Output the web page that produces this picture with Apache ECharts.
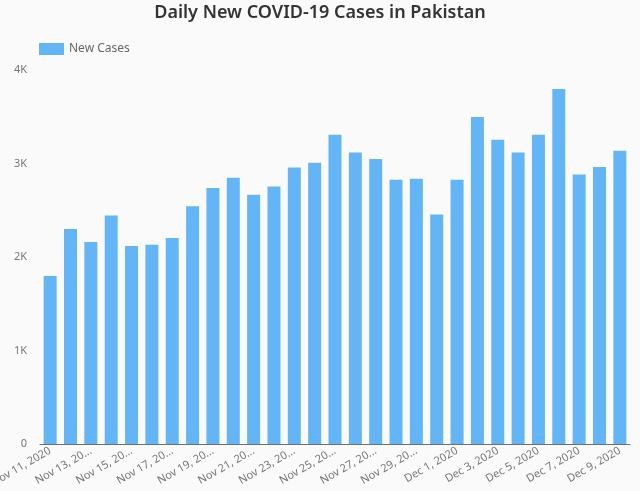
<!DOCTYPE html>
<html>
<head>
<meta charset="utf-8">
<script src="https://cdn.jsdelivr.net/npm/echarts@6/dist/echarts.min.js"></script>
<style>
html,body{margin:0;padding:0;background:#fafafa;}
#chart{width:640px;height:491px;}
</style>
</head>
<body>
<div id="chart"></div>
<script>
const categories = ["Nov 11, 2020","Nov 12, 2020","Nov 13, 2020","Nov 14, 2020","Nov 15, 2020","Nov 16, 2020","Nov 17, 2020","Nov 18, 2020","Nov 19, 2020","Nov 20, 2020","Nov 21, 2020","Nov 22, 2020","Nov 23, 2020","Nov 24, 2020","Nov 25, 2020","Nov 26, 2020","Nov 27, 2020","Nov 28, 2020","Nov 29, 2020","Nov 30, 2020","Dec 1, 2020","Dec 2, 2020","Dec 3, 2020","Dec 4, 2020","Dec 5, 2020","Dec 6, 2020","Dec 7, 2020","Dec 8, 2020","Dec 9, 2020"];
const newCases = [1796,2300,2161,2443,2118,2132,2204,2544,2737,2847,2665,2754,2958,3008,3308,3118,3048,2826,2836,2454,2826,3498,3255,3118,3308,3798,2883,2962,3137];
const xTickLabels = ["Nov 11, 2020","","Nov 13, 20...","","Nov 15, 20...","","Nov 17, 20...","","Nov 19, 20...","","Nov 21, 20...","","Nov 23, 20...","","Nov 25, 20...","","Nov 27, 20...","","Nov 29, 20...","","Dec 1, 2020","","Dec 3, 2020","","Dec 5, 2020","","Dec 7, 2020","","Dec 9, 2020"];
const yTickLabels = {0:"0",1000:"1K",2000:"2K",3000:"3K",4000:"4K"};

const chart = echarts.init(document.getElementById('chart'), null, {renderer:'canvas'});
chart.setOption({
  backgroundColor:'#fafafa',
  animation:false,
  textStyle:{fontFamily:'Noto Sans'},
  title:{
    text:'Daily New COVID-19 Cases in Pakistan',
    left:'center', top:-1,
    textStyle:{fontSize:18, fontWeight:600, color:'#333', fontFamily:'Noto Sans'}
  },
  legend:{
    left:34, top:38,
    itemWidth:25, itemHeight:12,
    icon:'rect',
    textStyle:{fontSize:12, color:'#666'},
    data:['New Cases']
  },
  grid:{left:40, right:10, top:70, bottom:47, containLabel:false, outerBoundsMode:'none'},
  xAxis:{
    type:'category',
    data:categories,
    axisLine:{lineStyle:{color:'#6e6e6e', width:1}},
    axisTick:{show:false},
    axisLabel:{
      interval:0, rotate:30, fontSize:11, color:'#777', margin:6,
      formatter:function(v, i){ return xTickLabels[i]; }
    }
  },
  yAxis:{
    type:'value',
    min:0, max:4000, interval:1000,
    axisLine:{show:false},
    axisTick:{show:false},
    splitLine:{show:false},
    axisLabel:{fontSize:11, color:'#777', margin:13,
      formatter:function(v){ return yTickLabels[v]; }}
  },
  series:[{
    name:'New Cases',
    type:'bar',
    data:newCases,
    barWidth:13,
    itemStyle:{color:'#64b5f6'}
  }]
});
</script>
</body>
</html>
